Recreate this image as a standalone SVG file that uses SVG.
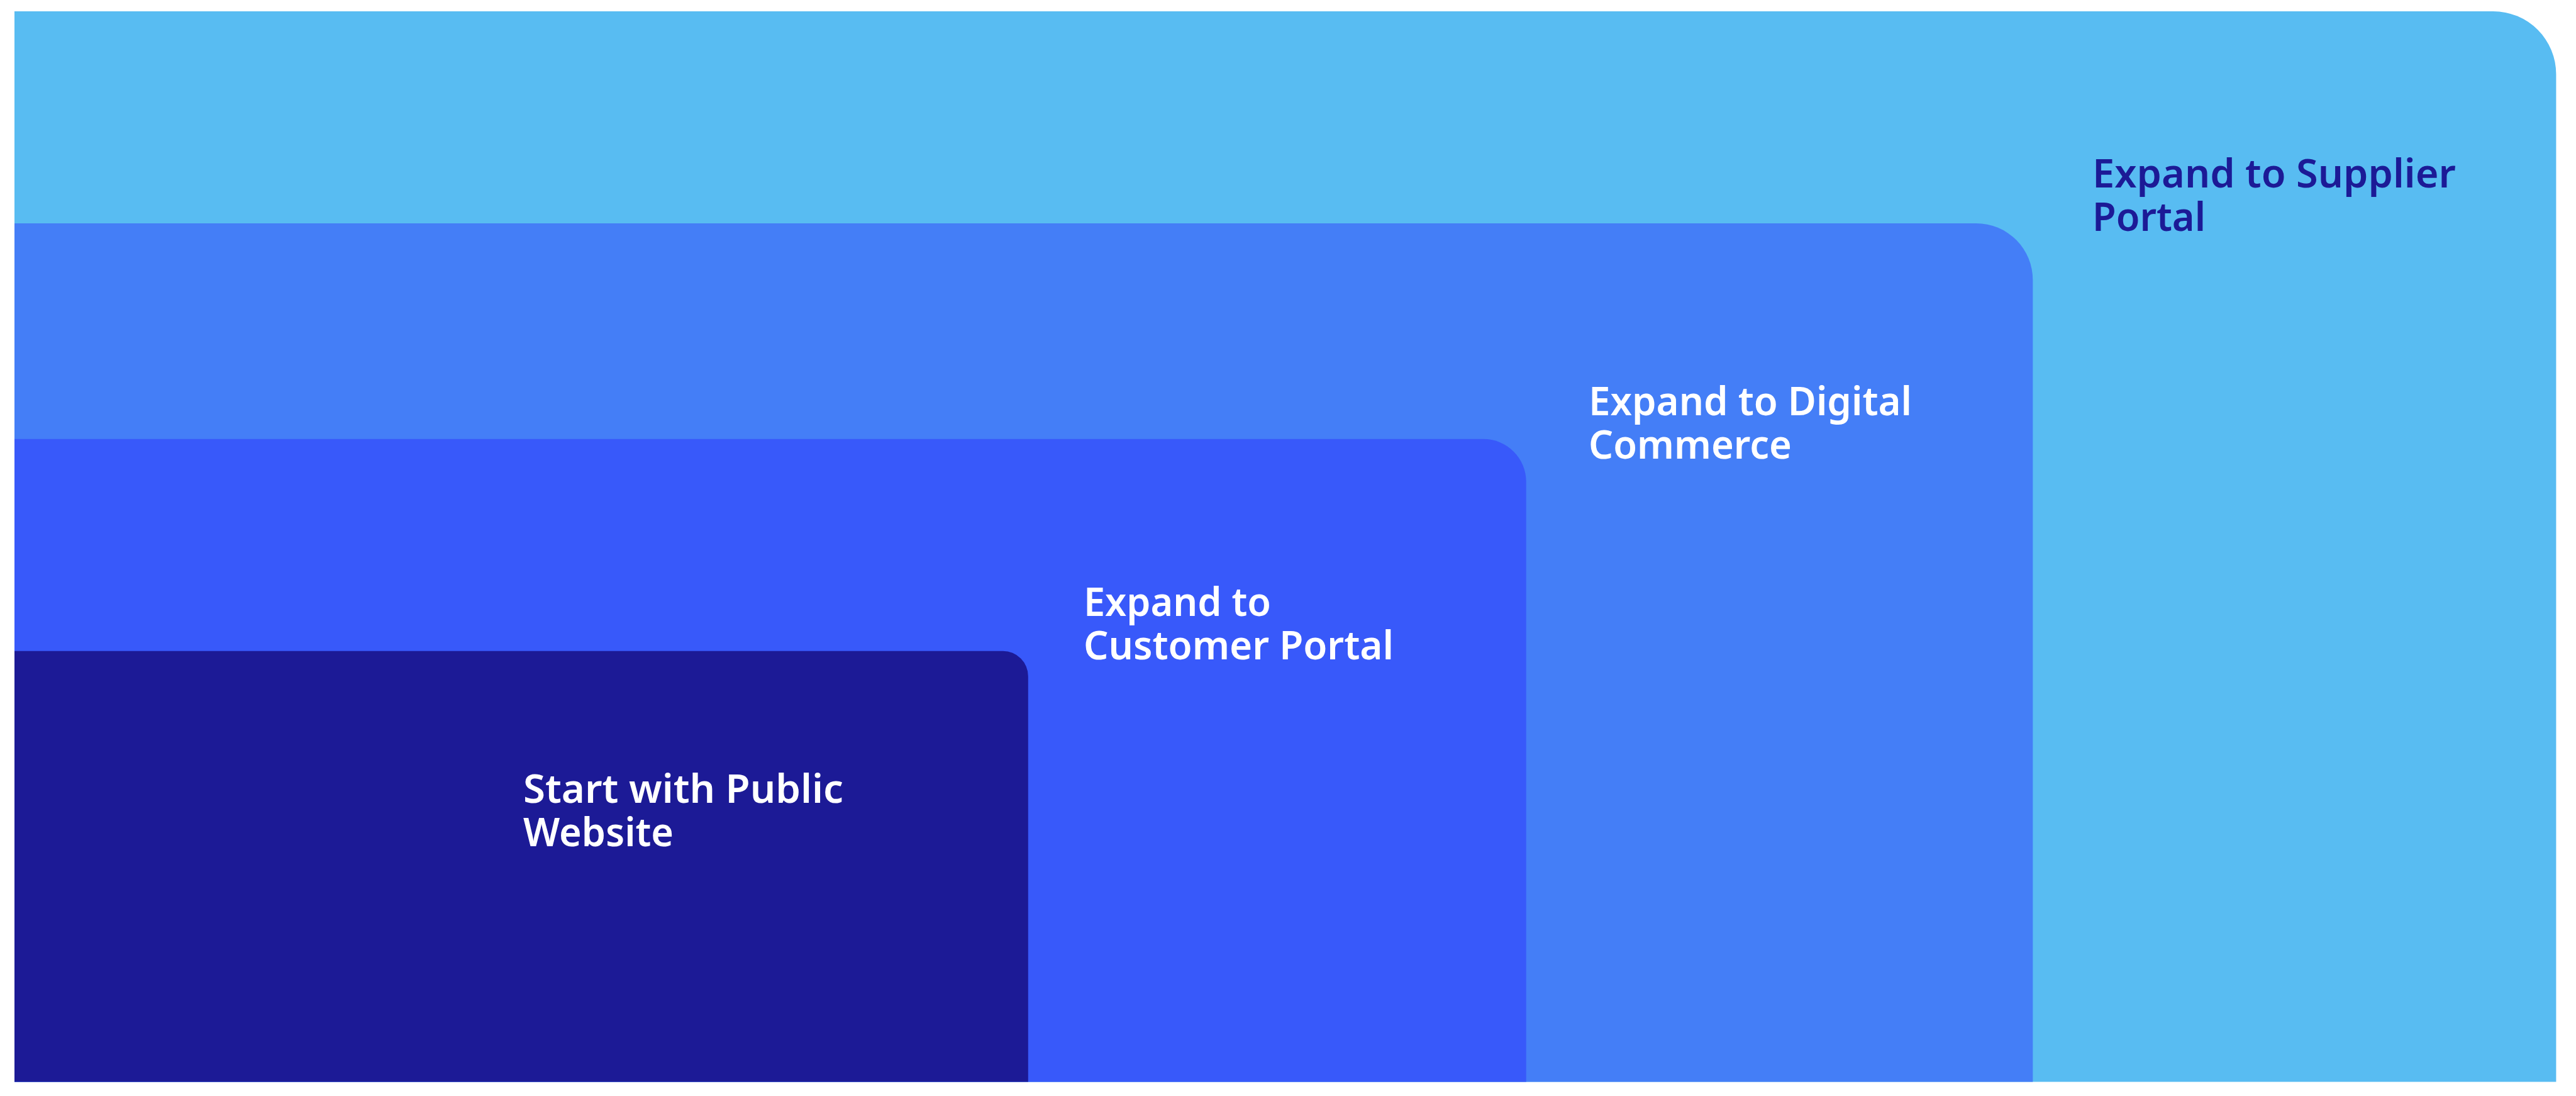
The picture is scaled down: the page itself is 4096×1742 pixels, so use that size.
<svg xmlns="http://www.w3.org/2000/svg" width="4096" height="1742" viewBox="0 0 4096 1742">
  <style>
    .lbl { font-family: "Noto Sans", "Open Sans", "Liberation Sans", sans-serif; font-weight: 600; font-size: 64px; }
    .light { fill: #ffffff; }
    .dark { fill: #1C1A96; }
  </style>
  <rect x="0" y="0" width="4096" height="1742" fill="#ffffff"/>
  <g id="node-supplier">
    <path d="M23,18 H3964.4 A100,100 0 0 1 4064.4,118 V1719.6 H23 Z" fill="#58BCF2"/>
    <text class="lbl dark" x="3327" y="297.5" textLength="578" lengthAdjust="spacingAndGlyphs">Expand to Supplier</text>
    <text class="lbl dark" x="3327" y="366.5" textLength="180" lengthAdjust="spacingAndGlyphs">Portal</text>
  </g>
  <g id="node-commerce">
    <path d="M23,355 H3142.3 A90,90 0 0 1 3232.3,445 V1719.6 H23 Z" fill="#447EF7"/>
    <text class="lbl light" x="2526" y="660.4" textLength="514" lengthAdjust="spacingAndGlyphs">Expand to Digital</text>
    <text class="lbl light" x="2526" y="729.4" textLength="323" lengthAdjust="spacingAndGlyphs">Commerce</text>
  </g>
  <g id="node-customer">
    <path d="M23,697.8 H2358.7 A68,68 0 0 1 2426.7,765.8 V1719.6 H23 Z" fill="#3859FA"/>
    <text class="lbl light" x="1723" y="978.7" textLength="298" lengthAdjust="spacingAndGlyphs">Expand to</text>
    <text class="lbl light" x="1723" y="1047.7" textLength="493" lengthAdjust="spacingAndGlyphs">Customer Portal</text>
  </g>
  <g id="node-website">
    <path d="M23,1034.8 H1594.8 A40,40 0 0 1 1634.8,1074.8 V1719.6 H23 Z" fill="#1C1A96"/>
    <text class="lbl light" x="832" y="1275.5" textLength="509" lengthAdjust="spacingAndGlyphs">Start with Public</text>
    <text class="lbl light" x="832" y="1344.5" textLength="239" lengthAdjust="spacingAndGlyphs">Website</text>
  </g>
  <g id="connectors"></g>
</svg>
